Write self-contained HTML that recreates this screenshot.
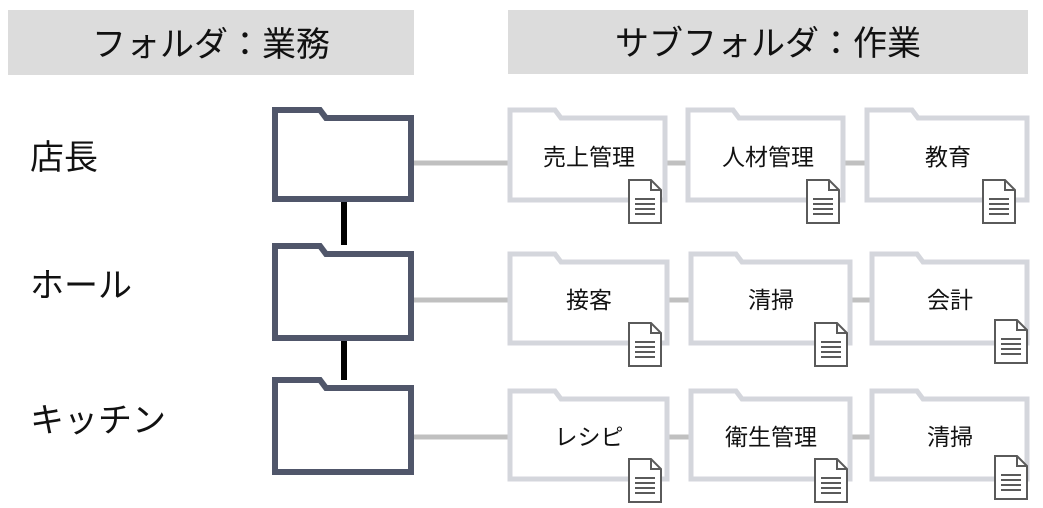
<!DOCTYPE html>
<html><head><meta charset="utf-8"><style>
body{margin:0;background:#fff;width:1043px;height:503px;overflow:hidden}
svg text{font-family:"Liberation Sans","Noto Sans CJK JP",sans-serif;fill:#111}
</style></head><body>
<svg width="1043" height="503" viewBox="0 0 1043 503">
<defs>
<g id="doc"><path d="M0,0H22L32,10V43H0Z" fill="#fff" stroke="#5a5a5a" stroke-width="2"/><path d="M22,0V10H32" fill="none" stroke="#5a5a5a" stroke-width="2"/>
<g stroke="#5a5a5a" stroke-width="2"><line x1="6" y1="19" x2="26" y2="19"/><line x1="6" y1="24" x2="26" y2="24"/><line x1="6" y1="29" x2="26" y2="29"/><line x1="6" y1="34" x2="26" y2="34"/></g></g>
</defs>
<rect x="8" y="10" width="406" height="65" fill="#dcdcdc"/>
<rect x="508" y="10" width="520" height="64" fill="#dcdcdc"/>
<text x="211" y="56" font-size="34" text-anchor="middle">フォルダ：業務</text>
<text x="768" y="55" font-size="34" text-anchor="middle">サブフォルダ：作業</text>
<text x="30" y="169" font-size="34">店長</text>
<text x="30" y="297" font-size="34">ホール</text>
<text x="30" y="432" font-size="34">キッチン</text>
<g stroke="#000" stroke-width="6"><line x1="344" y1="202" x2="344" y2="245"/><line x1="344" y1="340" x2="344" y2="380"/></g>
<g stroke="#c0c0c0" stroke-width="5">
<line x1="414" y1="163" x2="1020" y2="163"/><line x1="414" y1="300" x2="1020" y2="300"/><line x1="414" y1="437" x2="1020" y2="437"/></g>
<g fill="#fff" stroke="#50566a" stroke-width="6">
<path d="M275,110H320L326,118H411V199H275Z"/>
<path d="M275,246H320L326,254H411V338H275Z"/>
<path d="M275,380H320L326,388H411V472H275Z"/>
</g>
<g fill="#fff" stroke="#d4d6dc" stroke-width="5">
<path d="M510,110H555L561,118H665V200H510Z"/>
<path d="M688,110H733L739,118H843V200H688Z"/>
<path d="M867,110H912L918,118H1027V200H867Z"/>
<path d="M510,254H555L561,262H667V343H510Z"/>
<path d="M691,254H736L742,262H850V343H691Z"/>
<path d="M872,254H917L923,262H1027V343H872Z"/>
<path d="M510,391H555L561,399H667V479H510Z"/>
<path d="M691,391H736L742,399H850V479H691Z"/>
<path d="M872,391H917L923,399H1027V479H872Z"/>
</g>
<g font-size="23" text-anchor="middle">
<text x="589" y="165">売上管理</text><text x="768" y="165">人材管理</text><text x="948" y="165">教育</text>
<text x="589" y="308">接客</text><text x="771" y="308">清掃</text><text x="950" y="308">会計</text>
<text x="589" y="445">レシピ</text><text x="771" y="445">衛生管理</text><text x="950" y="445">清掃</text>
</g>
<use href="#doc" x="629" y="180"/><use href="#doc" x="807" y="180"/><use href="#doc" x="983" y="180"/>
<use href="#doc" x="629" y="323"/><use href="#doc" x="815" y="323"/><use href="#doc" x="995" y="320"/>
<use href="#doc" x="629" y="459"/><use href="#doc" x="815" y="459"/><use href="#doc" x="995" y="456"/>
</svg>
</body></html>
